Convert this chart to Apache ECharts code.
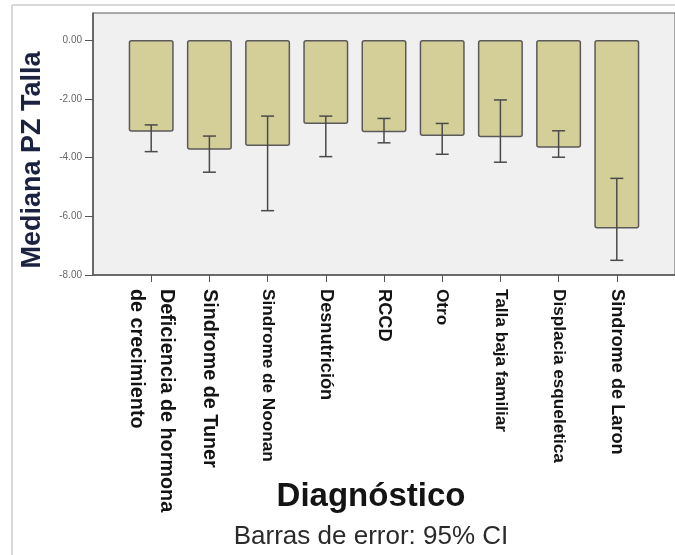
<!DOCTYPE html>
<html>
<head>
<meta charset="utf-8">
<script src="https://cdn.jsdelivr.net/npm/echarts@6/dist/echarts.min.js"></script>
<style>
  html, body { margin: 0; padding: 0; background: #fff; }
  #chart { width: 675px; height: 555px; }
</style>
</head>
<body>
<div id="chart"></div>
<script>
    'use strict'

    /* Data */
    var categories = [
        'Deficiencia de hormona\nde crecimiento', 'Sindrome de Tuner', 'Sindrome de Noonan',
        'Desnutrición', 'RCCD', 'Otro', 'Talla baja familiar', 'Displacia esqueletica', 'Sindrome de Laron'
    ];
    var medians = [-3.12, -3.74, -3.61, -2.86, -3.14, -3.27, -3.31, -3.67, -6.42];
    var ciUpper = [-2.89, -3.27, -2.59, -2.59, -2.67, -2.84, -2.04, -3.09, -4.71];
    var ciLower = [-3.80, -4.50, -5.81, -3.97, -3.50, -3.89, -4.16, -3.99, -7.50];
    var yTicks = [-8, -6, -4, -2, 0];
    var xPositions = categories.map(function (c, i) { return i; });

    // the labels in the source image were not all set at the same size
    var labelClass = ['big', 'big', 'small', 'mid', 'mid', 'small', 'small', 'small', 'mid'];

    var chart = echarts.init(document.getElementById('chart'));

    chart.setOption({
        animation: false,
        grid: {
            left: 93, top: 13, width: 589, height: 262,
            show: true,
            backgroundColor: '#f0f0f0',
            borderColor: '#5a5a5a',
            borderWidth: 1
        },
        xAxis: {
            type: 'value',
            min: -1, max: 9, interval: 1,
            splitLine: { show: false },
            axisLine: { show: true, onZero: false, lineStyle: { color: '#555', width: 1.5 } },
            axisTick: { show: true, customValues: xPositions, length: 7, lineStyle: { color: '#555' } },
            axisLabel: {
                customValues: xPositions,
                rotate: -90,
                margin: 14,
                fontFamily: 'Liberation Sans',
                fontWeight: 'bold',
                fontSize: 18,
                color: '#141414',
                formatter: function (v) {
                    var cls = labelClass[v];
                    return categories[v].split('\n').map(function (line) {
                        return '{' + cls + '|' + line + '}';
                    }).join('\n');
                },
                rich: {
                    big: { fontSize: 19.8, fontWeight: 'bold', lineHeight: 30, color: '#141414', fontFamily: 'Liberation Sans' },
                    mid: { fontSize: 18.2, fontWeight: 'bold', color: '#141414', fontFamily: 'Liberation Sans' },
                    small: { fontSize: 17.2, fontWeight: 'bold', color: '#141414', fontFamily: 'Liberation Sans' }
                }
            }
        },
        yAxis: {
            type: 'value',
            min: -8, max: 0.92, interval: 2,
            splitLine: { show: false },
            axisLine: { show: true, onZero: false, lineStyle: { color: '#555', width: 1.5 } },
            axisTick: { show: true, customValues: yTicks, length: 8, lineStyle: { color: '#555' } },
            axisLabel: {
                customValues: yTicks,
                margin: 11,
                fontFamily: 'Liberation Sans',
                fontSize: 10,
                color: '#666',
                formatter: function (v) { return v.toFixed(2); }
            }
        },
        series: [{
            type: 'bar',
            barWidth: 45,
            data: medians.map(function (v, i) { return [i, v]; }),
            itemStyle: {
                color: '#d4cf98',
                borderColor: '#5a5a5a',
                borderWidth: 1.5,
                borderRadius: 2
            }
        }, {
            type: 'custom',
            data: ciLower.map(function (v, i) { return [i, v, ciUpper[i]]; }),
            z: 5,
            renderItem: function (params, api) {
                var lo = api.coord([api.value(0), api.value(1)]);
                var hi = api.coord([api.value(0), api.value(2)]);
                var half = 6.5;
                var style = { stroke: '#4a4a4a', lineWidth: 1.5 };
                return {
                    type: 'group',
                    children: [
                        { type: 'line', shape: { x1: lo[0], y1: lo[1], x2: hi[0], y2: hi[1] }, style: style },
                        { type: 'line', shape: { x1: lo[0] - half, y1: lo[1], x2: lo[0] + half, y2: lo[1] }, style: style },
                        { type: 'line', shape: { x1: hi[0] - half, y1: hi[1], x2: hi[0] + half, y2: hi[1] }, style: style }
                    ]
                };
            }
        }],
        graphic: [
            { type: 'line', shape: { x1: 12, y1: 5, x2: 12, y2: 555 }, style: { stroke: '#d9d9d9', lineWidth: 2 } },
            { type: 'line', shape: { x1: 12, y1: 5, x2: 675, y2: 5 }, style: { stroke: '#d9d9d9', lineWidth: 2 } },
            {
                type: 'text', x: 33, y: 160, rotation: Math.PI / 2,
                style: {
                    text: 'Mediana PZ Talla', fill: '#1c2340',
                    font: 'bold 27px "Liberation Sans"',
                    textAlign: 'center', textVerticalAlign: 'middle'
                }
            },
            {
                type: 'text', x: 371, y: 497,
                style: {
                    text: 'Diagnóstico', fill: '#141414',
                    font: 'bold 33px "Liberation Sans"',
                    textAlign: 'center', textVerticalAlign: 'middle'
                }
            },
            {
                type: 'text', x: 371, y: 537,
                style: {
                    text: 'Barras de error: 95% CI', fill: '#2a2a2a',
                    font: '26px "Liberation Sans"',
                    textAlign: 'center', textVerticalAlign: 'middle'
                }
            }
        ]
    });
</script>
</body>
</html>
